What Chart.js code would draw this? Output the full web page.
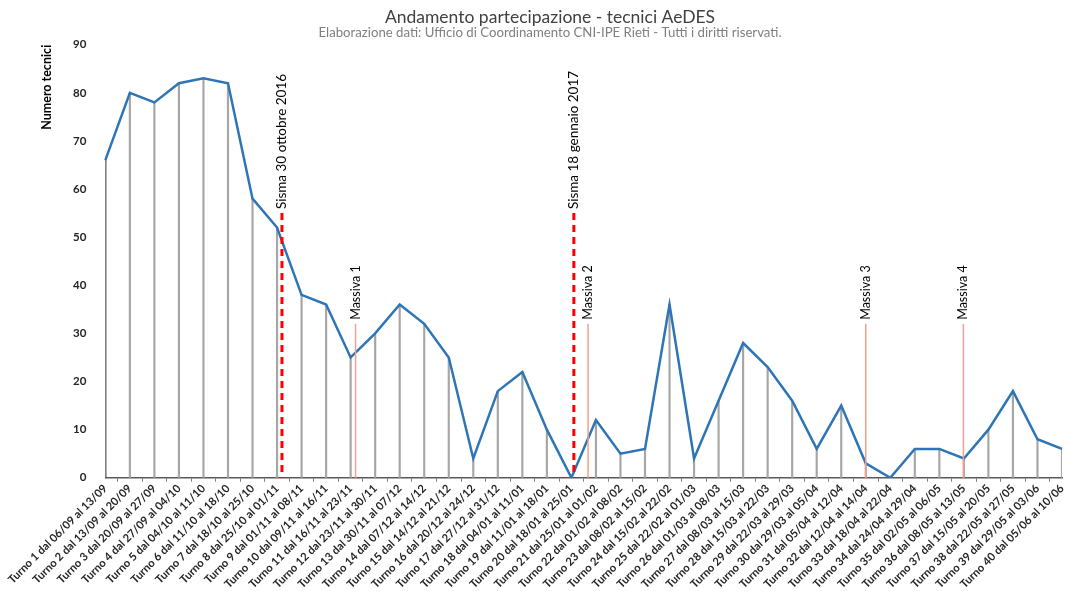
<!DOCTYPE html>
<html>
<head>
<meta charset="utf-8">
<script src="https://cdn.jsdelivr.net/npm/chart.js@4/dist/chart.umd.min.js"></script>
<style>
  html, body { margin:0; padding:0; background:#fff; }
  #wrap { width:1065px; height:591px; }
</style>
</head>
<body>
<div id="wrap"><canvas id="lineChart"></canvas></div>
<script>
var turni = [
  "Turno 1 dal 06/09 al 13/09", "Turno 2 dal 13/09 al 20/09", "Turno 3 dal 20/09 al 27/09",
  "Turno 4 dal 27/09 al 04/10", "Turno 5 dal 04/10 al 11/10", "Turno 6 dal 11/10 al 18/10",
  "Turno 7 dal 18/10 al 25/10", "Turno 8 dal 25/10 al 01/11", "Turno 9 dal 01/11 al 08/11",
  "Turno 10 dal 09/11 al 16/11", "Turno 11 dal 16/11 al 23/11", "Turno 12 dal 23/11 al 30/11",
  "Turno 13 dal 30/11 al 07/12", "Turno 14 dal 07/12 al 14/12", "Turno 15 dal 14/12 al 21/12",
  "Turno 16 dal 20/12 al 24/12", "Turno 17 dal 27/12 al 31/12", "Turno 18 dal 04/01 al 11/01",
  "Turno 19 dal 11/01 al 18/01", "Turno 20 dal 18/01 al 25/01", "Turno 21 dal 25/01 al 01/02",
  "Turno 22 dal 01/02 al 08/02", "Turno 23 dal 08/02 al 15/02", "Turno 24 dal 15/02 al 22/02",
  "Turno 25 dal 22/02 al 01/03", "Turno 26 dal 01/03 al 08/03", "Turno 27 dal 08/03 al 15/03",
  "Turno 28 dal 15/03 al 22/03", "Turno 29 dal 22/03 al 29/03", "Turno 30 dal 29/03 al 05/04",
  "Turno 31 dal 05/04 al 12/04", "Turno 32 dal 12/04 al 14/04", "Turno 33 dal 18/04 al 22/04",
  "Turno 34 dal 24/04 al 29/04", "Turno 35 dal 02/05 al 06/05", "Turno 36 dal 08/05 al 13/05",
  "Turno 37 dal 15/05 al 20/05", "Turno 38 dal 22/05 al 27/05", "Turno 39 dal 29/05 al 03/06",
  "Turno 40 dal 05/06 al 10/06"
];
var tecnici = [66, 80, 78, 82, 83, 82, 58, 52, 38, 36,
               25, 30, 36, 32, 25, 4, 18, 22, 10, 0,
               12, 5, 6, 36, 4, 16, 28, 23, 16, 6,
               15, 3, 0, 6, 6, 4, 10, 18, 8, 6];

// eventi (posizione in indice di turno, altezza della linea in valore)
var eventLabels = ["Sisma 30 ottobre 2016", "Massiva 1", "Sisma 18 gennaio 2017", "Massiva 2", "Massiva 3", "Massiva 4"];
var eventPos    = [7.2, 10.2, 19.1, 19.68, 31.0, 34.98];
var eventTop    = [55, 32, 55, 32, 32, 32];
var eventSisma  = [true, false, true, false, false, false];

var yTicks = [0, 10, 20, 30, 40, 50, 60, 70, 80, 90];

var fontFam = "Lato, 'Open Sans', sans-serif";

var eventPlugin = {
  id: 'eventi',
  afterDatasetsDraw: function(chart) {
    var ctx = chart.ctx;
    var xs = chart.scales.x, ys = chart.scales.y;
    var y0 = ys.getPixelForValue(0);
    for (var i = 0; i < eventLabels.length; i++) {
      var x = xs.getPixelForValue(eventPos[i]);
      var yt = ys.getPixelForValue(eventTop[i]);
      ctx.save();
      ctx.beginPath();
      if (eventSisma[i]) {
        ctx.strokeStyle = '#ff0000';
        ctx.lineWidth = 3;
        ctx.setLineDash([7, 5]);
      } else {
        ctx.strokeStyle = '#f4a08a';
        ctx.lineWidth = 1.5;
      }
      ctx.moveTo(x, yt);
      ctx.lineTo(x, y0);
      ctx.stroke();
      ctx.setLineDash([]);
      ctx.translate(x, yt - 4);
      ctx.rotate(-Math.PI / 2);
      ctx.fillStyle = '#000';
      ctx.font = (eventSisma[i] ? '13.5px ' : '12.5px ') + fontFam;
      ctx.textAlign = 'left';
      ctx.textBaseline = 'middle';
      ctx.fillText(eventLabels[i], 0, 0);
      ctx.restore();
    }
  }
};

var ctxL = document.getElementById("lineChart").getContext('2d');
var myLineChart = new Chart(ctxL, {
  type: 'line',
  data: {
    labels: turni,
    datasets: [{
      label: "Numero tecnici",
      data: tecnici,
      borderColor: '#2e75b6',
      borderWidth: 2.5,
      pointRadius: 0,
      tension: 0,
      fill: false,
      order: 0
    },
    {
      type: 'bar',
      label: "linee",
      data: tecnici,
      backgroundColor: function(c) { return c.dataIndex === 0 ? '#404040' : '#a6a6a6'; },
      barThickness: 1.5,
      order: 1
    }]
  },
  options: {
    responsive: true,
    maintainAspectRatio: false,
    animation: false,
    layout: { padding: { left: 35, right: 0, top: 0, bottom: 0 } },
    plugins: {
      legend: { display: false },
      tooltip: { enabled: false },
      title: {
        display: true,
        text: "Andamento partecipazione - tecnici AeDES",
        color: '#404040',
        font: { family: fontFam, size: 17.5, weight: 'normal', lineHeight: 1.0 },
        padding: { top: 9, bottom: 0 }
      },
      subtitle: {
        display: true,
        text: "Elaborazione dati: Ufficio di Coordinamento CNI-IPE Rieti - Tutti i diritti riservati.",
        color: '#7f7f7f',
        font: { family: fontFam, size: 13.2, lineHeight: 1.0 },
        padding: { top: 0, bottom: 5 }
      }
    },
    scales: {
      x: {
        offset: false,
        afterFit: function(axis) { axis.paddingRight = 3; },
        grid: { display: true, drawOnChartArea: false, drawTicks: true, tickLength: 4, color: '#7f7f7f' },
        border: { display: true, color: '#595959', width: 1.5 },
        ticks: {
          autoSkip: false,
          maxRotation: 45,
          minRotation: 45,
          color: '#262626',
          padding: 0,
          font: { family: fontFam, size: 11.2, weight: 'bold' }
        }
      },
      y: {
        min: 0,
        max: 90,
        afterBuildTicks: function(axis) {
          axis.ticks = yTicks.map(function(v) { return { value: v }; });
        },
        grid: { display: false },
        border: { display: false },
        ticks: {
          color: '#262626',
          padding: 11,
          font: { family: fontFam, size: 11.5, weight: 'bold' }
        },
        title: {
          display: true,
          text: "Numero tecnici",
          align: 'end',
          color: '#000',
          padding: { bottom: 8 },
          font: { family: fontFam, size: 12.5, weight: 'bold' }
        }
      }
    }
  },
  plugins: [eventPlugin]
});
</script>
</body>
</html>
